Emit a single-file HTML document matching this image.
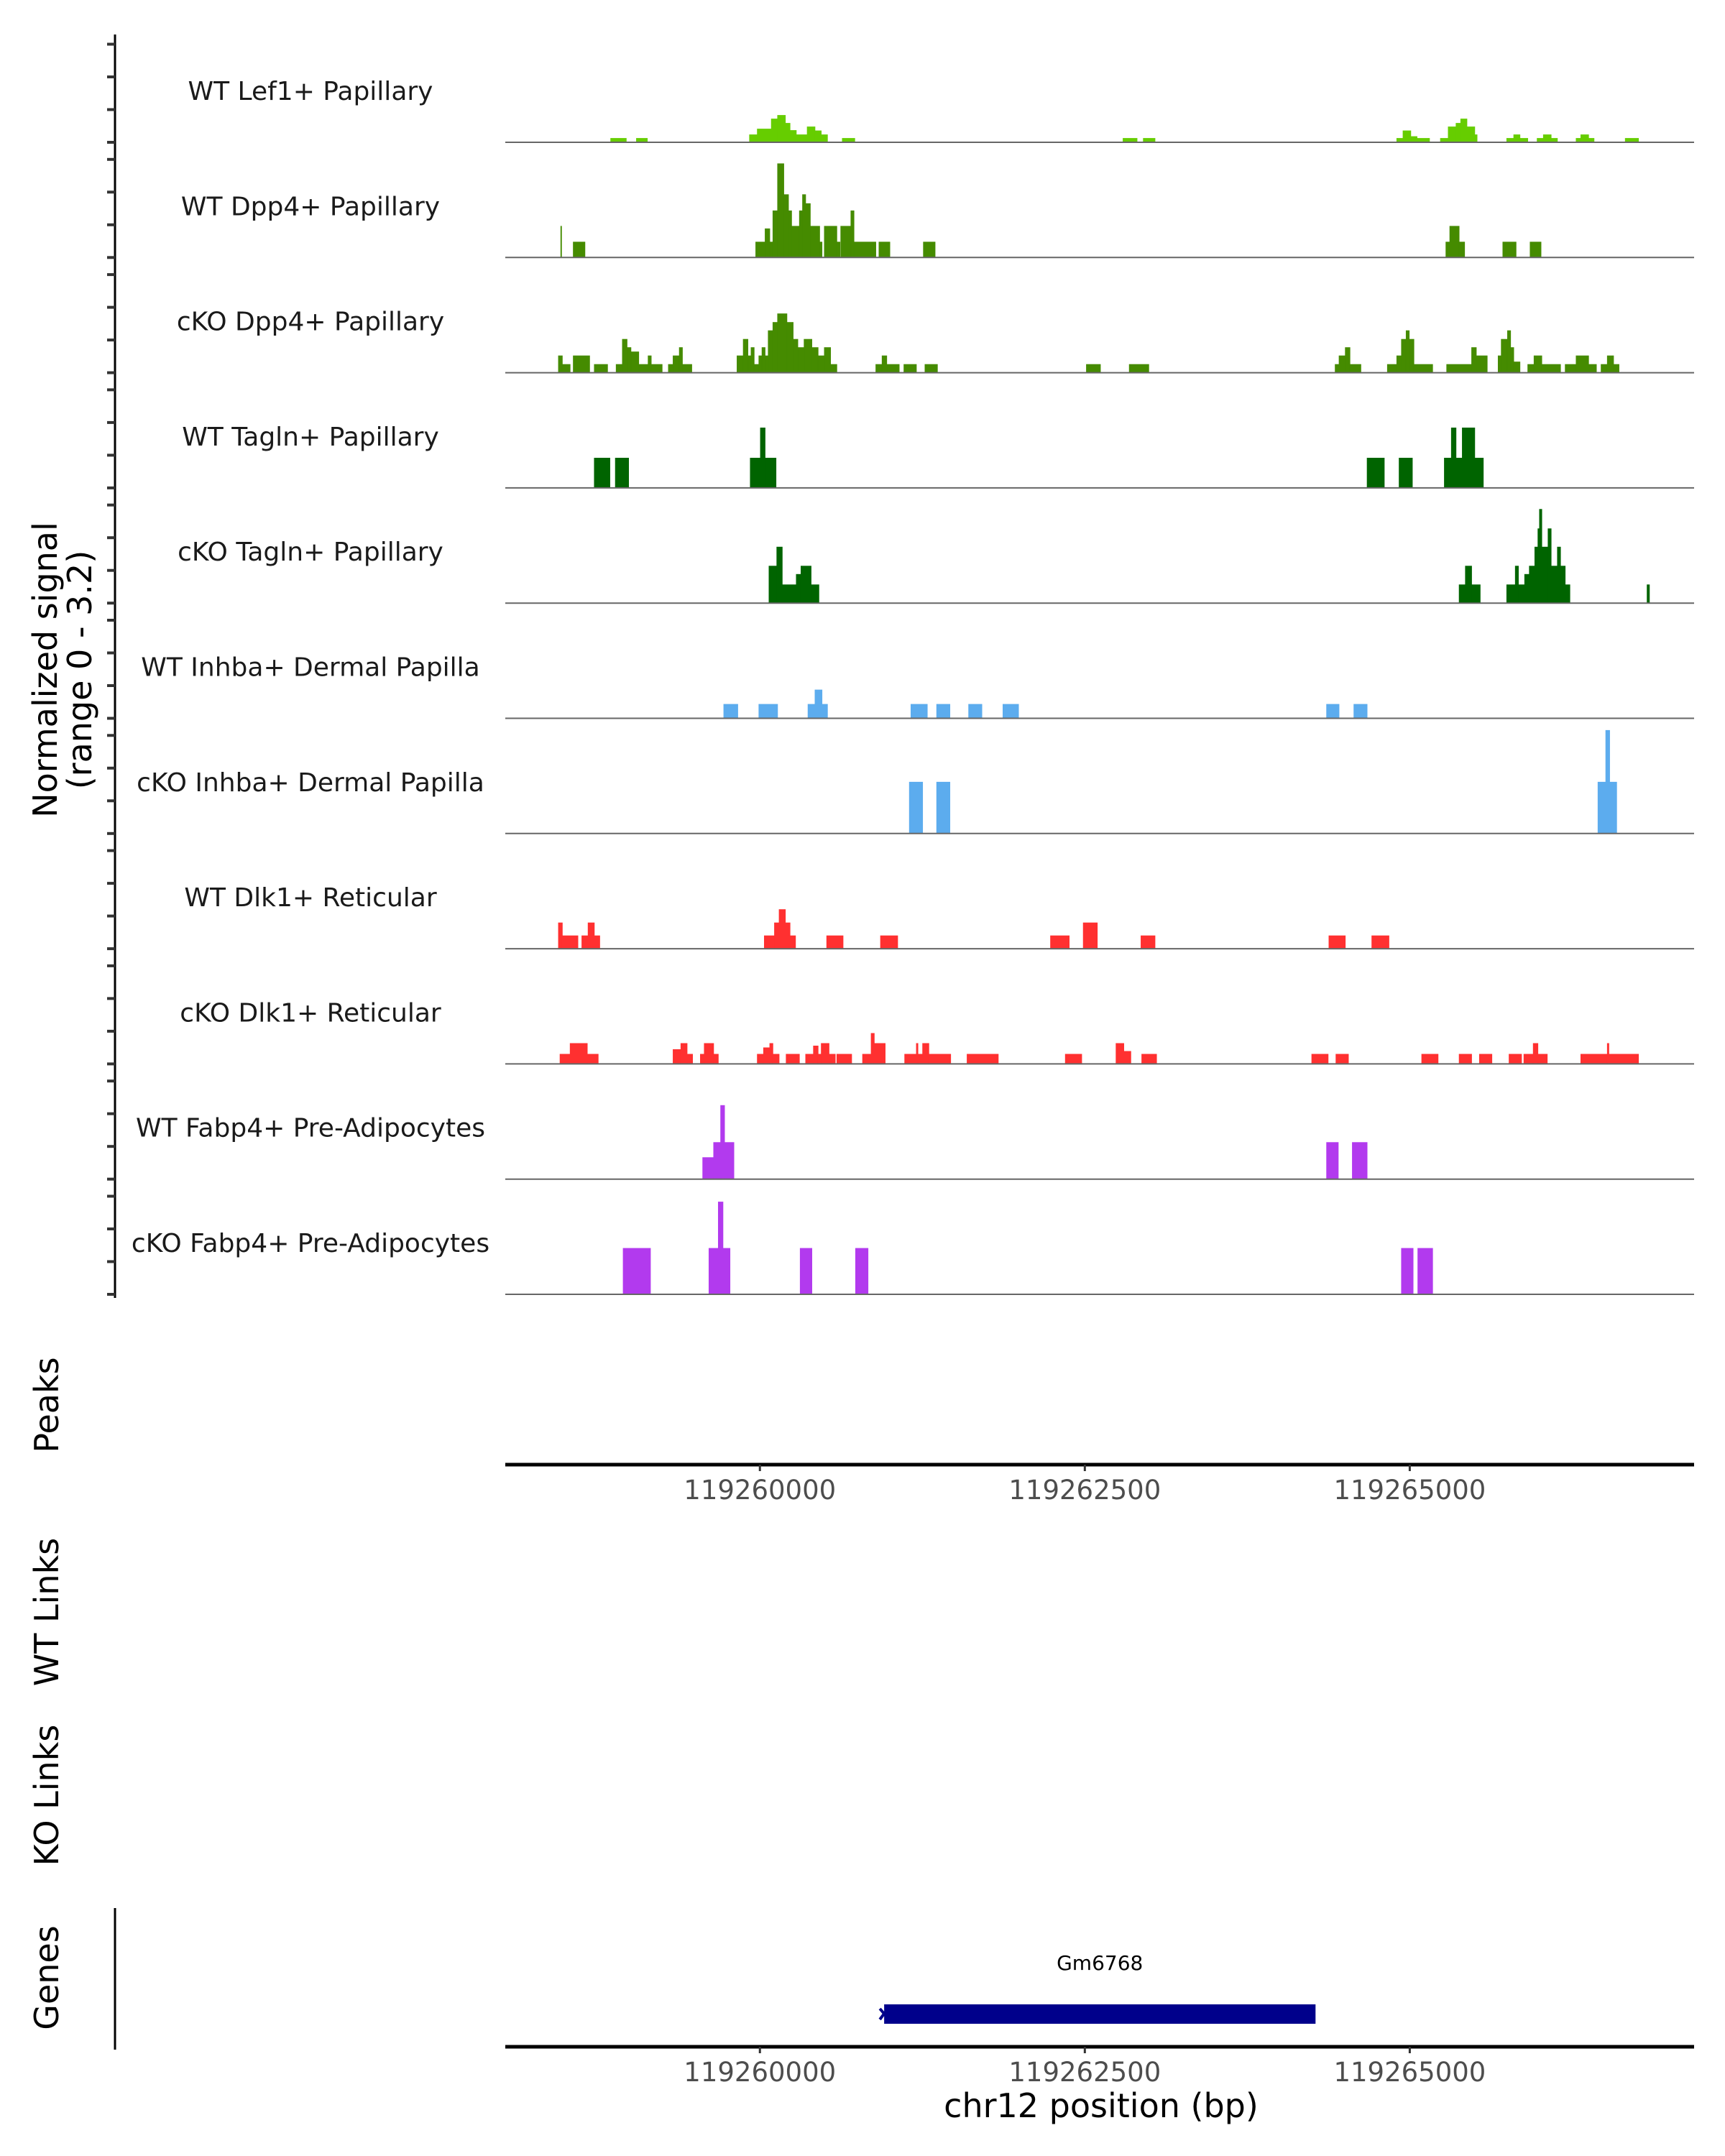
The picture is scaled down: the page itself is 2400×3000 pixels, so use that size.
<!DOCTYPE html>
<html><head><meta charset="utf-8"><style>
html,body{margin:0;padding:0;background:#fff;}
svg{display:block;font-family:"DejaVu Sans","Liberation Sans",sans-serif;}
</style></head><body>
<svg id="chart" width="2400" height="3000" viewBox="0 0 2400 3000" xmlns="http://www.w3.org/2000/svg"></svg>
<script>
// ---- data ----
const regionBase = 119258000;
const trackNames = ["WT Lef1+ Papillary","WT Dpp4+ Papillary","cKO Dpp4+ Papillary","WT Tagln+ Papillary","cKO Tagln+ Papillary","WT Inhba+ Dermal Papilla","cKO Inhba+ Dermal Papilla","WT Dlk1+ Reticular","cKO Dlk1+ Reticular","WT Fabp4+ Pre-Adipocytes","cKO Fabp4+ Pre-Adipocytes"];
const trackColors = ["#66CD00","#458B00","#458B00","#006400","#006400","#5CACEE","#5CACEE","#FF3030","#FF3030","#B23AEE","#B23AEE"];
// signal blocks: [startOffsetBp, endOffsetBp, value]
const sigLef1WT = [[852,972,.11],[1050,1134,.11],[1920,1980,.21],[1980,2088,.37],[2088,2136,.65],[2136,2196,.75],[2196,2232,.53],[2232,2280,.33],[2280,2364,.21],[2364,2424,.43],[2424,2472,.32],[2472,2520,.21],[2634,2730,.11],[4794,4902,.11],[4950,5040,.11],[6900,6948,.11],[6948,7008,.32],[7008,7056,.16],[7056,7152,.11],[7236,7296,.11],[7296,7356,.43],[7356,7392,.53],[7392,7440,.65],[7440,7500,.43],[7500,7518,.21],[7746,7800,.11],[7800,7848,.21],[7848,7908,.11],[7980,8028,.11],[8028,8088,.21],[8088,8136,.11],[8280,8316,.11],[8316,8376,.21],[8376,8418,.11],[8658,8760,.11]];
const sigDpp4WT = [[468,474,.87],[564,654,.43],[1968,2040,.43],[2040,2076,.8],[2076,2100,.43],[2100,2136,1.3],[2136,2184,2.61],[2184,2220,1.75],[2220,2244,1.3],[2244,2304,.87],[2304,2328,1.3],[2328,2352,1.75],[2352,2388,1.5],[2388,2460,.87],[2460,2478,.43],[2496,2592,.87],[2592,2616,.43],[2622,2700,.87],[2700,2724,1.3],[2724,2892,.43],[2916,3000,.43],[3258,3348,.43],[7278,7308,.43],[7308,7380,.87],[7380,7422,.43],[7716,7818,.43],[7926,8010,.43]];
const sigDpp4KO = [[450,480,.47],[480,540,.23],[564,690,.47],[726,828,.23],[894,942,.23],[942,978,.93],[978,1008,.7],[1008,1068,.58],[1068,1140,.23],[1140,1164,.47],[1164,1248,.23],[1296,1332,.23],[1332,1380,.47],[1380,1404,.7],[1404,1476,.23],[1824,1872,.47],[1872,1908,.93],[1908,1932,.47],[1932,1956,.7],[1956,1992,.23],[1992,2016,.47],[2016,2040,.7],[2040,2064,.47],[2064,2100,1.17],[2100,2136,1.4],[2136,2208,1.64],[2208,2256,1.4],[2256,2292,.93],[2292,2340,.7],[2340,2400,.93],[2400,2448,.7],[2448,2496,.47],[2496,2544,.7],[2544,2592,.23],[2892,2940,.23],[2940,2976,.47],[2976,3072,.23],[3108,3204,.23],[3270,3366,.23],[4512,4620,.23],[4842,4992,.23],[6426,6456,.23],[6456,6504,.47],[6504,6540,.7],[6540,6624,.23],[6828,6900,.23],[6900,6936,.47],[6936,6972,.93],[6972,6996,1.17],[6996,7032,.93],[7032,7176,.23],[7284,7476,.23],[7476,7512,.7],[7512,7596,.47],[7680,7704,.47],[7704,7752,.93],[7752,7776,1.17],[7776,7800,.7],[7800,7848,.3],[7908,7956,.23],[7956,8016,.47],[8016,8160,.23],[8196,8280,.23],[8280,8376,.47],[8376,8436,.23],[8472,8520,.23],[8520,8568,.47],[8568,8610,.23]];
const sigTaglnWT = [[726,846,.83],[888,990,.83],[1926,2004,.83],[2004,2040,1.67],[2040,2124,.83],[6672,6804,.83],[6918,7020,.83],[7266,7320,.83],[7320,7356,1.67],[7356,7404,.83],[7404,7500,1.67],[7500,7566,.83]];
const sigTaglnKO = [[2070,2130,1.03],[2130,2172,1.56],[2172,2280,.51],[2280,2316,.8],[2316,2394,1.03],[2394,2454,.51],[7380,7428,.51],[7428,7476,1.03],[7476,7542,.51],[7746,7812,.51],[7812,7836,1.03],[7836,7884,.51],[7884,7920,.8],[7920,7962,1.03],[7962,7986,1.56],[7986,7998,2.07],[7998,8016,2.61],[8016,8064,1.56],[8064,8088,2.07],[8088,8136,1.03],[8136,8160,1.56],[8160,8196,1.03],[8196,8232,.51],[8826,8844,.51]];
const sigInhbaWT = [[1722,1830,.39],[1992,2136,.39],[2370,2424,.39],[2424,2478,.79],[2478,2520,.39],[3162,3288,.39],[3360,3462,.39],[3606,3708,.39],[3870,3990,.39],[6360,6456,.39],[6570,6672,.39]];
const sigInhbaKO = [[3150,3252,1.43],[3360,3462,1.43],[8448,8508,1.43],[8508,8538,2.87],[8538,8592,1.43]];
const sigDlk1WT = [[450,480,.72],[480,600,.36],[630,678,.36],[678,726,.72],[726,768,.36],[2034,2112,.36],[2112,2148,.72],[2148,2196,1.09],[2196,2232,.72],[2232,2274,.36],[2514,2640,.36],[2928,3060,.36],[4236,4380,.36],[4488,4596,.72],[4932,5040,.36],[6378,6504,.36],[6708,6840,.36]];
const sigDlk1KO = [[462,540,.27],[540,672,.57],[672,756,.27],[1332,1392,.4],[1392,1440,.57],[1440,1482,.27],[1542,1572,.27],[1572,1644,.57],[1644,1680,.27],[1980,2028,.27],[2028,2076,.45],[2076,2100,.57],[2100,2148,.27],[2202,2304,.27],[2352,2412,.27],[2412,2448,.5],[2448,2472,.27],[2472,2532,.57],[2532,2580,.27],[2592,2706,.27],[2790,2856,.27],[2856,2880,.85],[2880,2964,.57],[3114,3204,.27],[3204,3216,.57],[3216,3252,.27],[3252,3300,.57],[3300,3468,.27],[3594,3834,.27],[4350,4476,.27],[4740,4800,.57],[4800,4854,.35],[4938,5052,.27],[6246,6372,.27],[6432,6528,.27],[7092,7218,.27],[7380,7476,.27],[7536,7632,.27],[7764,7860,.27],[7878,7950,.27],[7950,7986,.57],[7986,8058,.27],[8316,8520,.27],[8520,8532,.57],[8532,8760,.27]];
const sigFabp4WT = [[1560,1644,.6],[1644,1698,1.02],[1698,1728,2.05],[1728,1800,1.02],[6360,6450,1.02],[6558,6672,1.02]];
const sigFabp4KO = [[948,1158,1.28],[1608,1680,1.28],[1680,1716,2.57],[1716,1770,1.28],[2310,2400,1.28],[2736,2832,1.28],[6936,7026,1.28],[7062,7176,1.28]];
const trackSignals = [sigLef1WT,sigDpp4WT,sigDpp4KO,sigTaglnWT,sigTaglnKO,sigInhbaWT,sigInhbaKO,sigDlk1WT,sigDlk1KO,sigFabp4WT,sigFabp4KO];
const yTickValues = [0,0.91,1.82,2.73];
const xTickValues = [119260000,119262500,119265000];
const xTickLabels = ["119260000","119262500","119265000"];
const geneName = "Gm6768";
const geneStart = 119260956;
const geneEnd = 119264275;

// ---- layout / scales ----
const NS="http://www.w3.org/2000/svg";
const svg=document.getElementById('chart');
const plotX0=703, plotX1=2357;
const bpMin=119258041, bpPerPx=5.53;
function xScale(bp){return plotX0+(bp-bpMin)/bpPerPx;}
const firstBase=198, trackStep=160.3, pxPerUnit=50;
function yScale(base,v){return base-v*pxPerUnit;}
function mk(tag,attrs,parent){const e=document.createElementNS(NS,tag);for(const k in attrs)e.setAttribute(k,attrs[k]);(parent||svg).appendChild(e);return e;}

// left axis
const axL=mk('line',{x1:160,y1:48,x2:160,y2:1806,stroke:'#000','stroke-width':3});



trackNames.forEach((name,i)=>{
  const base=firstBase+i*trackStep;
  const g=mk('g',{});
  
  
  yTickValues.forEach(t=>{
    const tk=mk('line',{x1:149,x2:160,y1:yScale(base,t),y2:yScale(base,t),stroke:'#333','stroke-width':4},g);
    
    
  });
  trackSignals[i].forEach(b=>{
    const x0=xScale(regionBase+b[0]), x1=xScale(regionBase+b[1]), y=yScale(base,b[2]);
    const r=mk('rect',{x:x0,y:y,width:Math.max(1,x1-x0),height:base-y,fill:trackColors[i],stroke:trackColors[i],'stroke-width':0.8},g);
    
    
  });
  const bl=mk('line',{x1:plotX0,x2:plotX1,y1:base,y2:base,stroke:'#666','stroke-width':2},g);
  
  
  const t=mk('text',{x:432,y:base-59,'text-anchor':'middle','font-size':36,fill:'#1a1a1a'},g);
  t.textContent=name;
  
  
});

// vertical titles
function vtext(lines,x,y,name){
  const t=mk('text',{transform:`translate(${x},${y}) rotate(-90)`,'text-anchor':'middle','font-size':46,fill:'#000'});
  lines.forEach((l,k)=>{const s=mk('tspan',{x:0,dy:k===0?(-(lines.length-1)*24+16):48},t);s.textContent=l;});
  
  
}
vtext(["Normalized signal","(range 0 - 3.2)"],87,932,'y-axis-title');
vtext(["Peaks"],65,1955,'peaks-title');
vtext(["WT Links"],65,2243,'wt-links-title');
vtext(["KO Links"],65,2498,'ko-links-title');
vtext(["Genes"],65,2752,'genes-title');

// x axes
function xAxis(y,name,labelY){
  const g=mk('g',{});
  
  
  mk('line',{x1:plotX0,x2:plotX1,y1:y,y2:y,stroke:'#000','stroke-width':5},g);
  xTickValues.forEach((v,k)=>{
    const x=xScale(v);
    mk('line',{x1:x,x2:x,y1:y,y2:y+9,stroke:'#333','stroke-width':3},g);
    const t=mk('text',{x:x,y:labelY,'text-anchor':'middle','font-size':37,fill:'#4d4d4d'},g);
    t.textContent=xTickLabels[k];
    
    
  });
}
xAxis(2038,'peaks-x-axis',2086);
xAxis(2848,'genes-x-axis',2896);
const xt=mk('text',{x:1532,y:2946,'text-anchor':'middle','font-size':46,fill:'#000'});
xt.textContent='chr12 position (bp)';



// genes left axis
const gl=mk('line',{x1:160,y1:2655,x2:160,y2:2852,stroke:'#000','stroke-width':3});



// gene
const gx0=xScale(geneStart), gx1=xScale(geneEnd);
const gb=mk('rect',{x:gx0,y:2789,width:gx1-gx0,height:27,fill:'#00008B'});


const ga=mk('path',{d:`M${gx0-6} 2795 L${gx0} 2802 L${gx0-6} 2810`,stroke:'#00008B','stroke-width':4,fill:'none'});


const gt=mk('text',{x:(gx0+gx1)/2,y:2741,'text-anchor':'middle','font-size':28,fill:'#000'});
gt.textContent=geneName;


</script>
</body></html>
